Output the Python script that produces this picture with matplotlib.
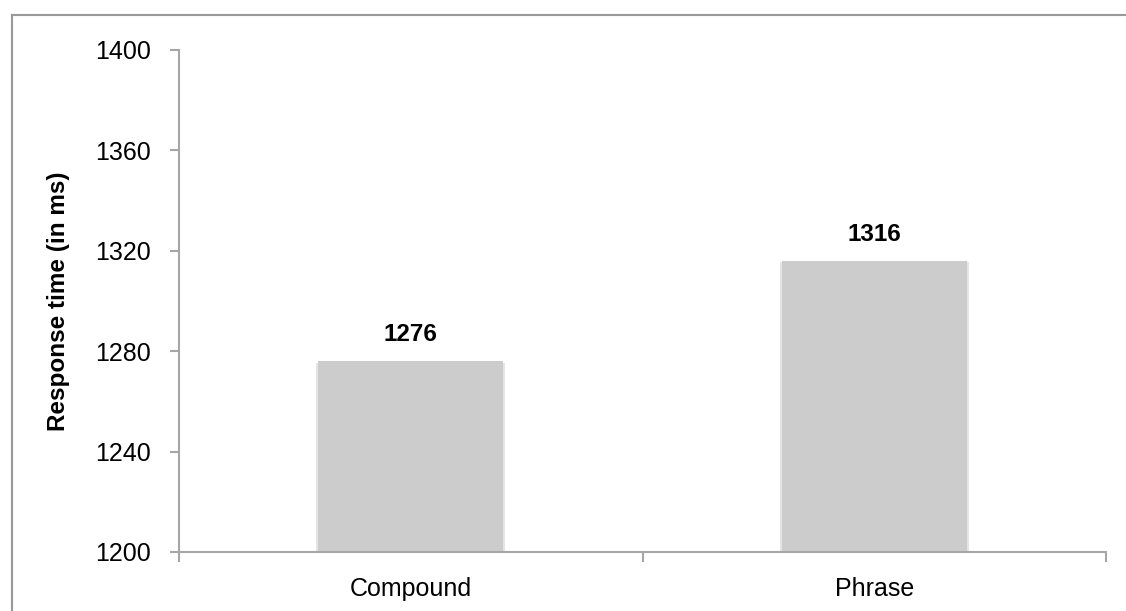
import matplotlib.pyplot as plt
from matplotlib.lines import Line2D

categories = ['Compound', 'Phrase']
values = [1276, 1316]
yticks = [1200, 1240, 1280, 1320, 1360, 1400]

plt.rcParams['font.family'] = ['Liberation Sans', 'DejaVu Sans']
axis_col = '#a6a6a6'

fig = plt.figure(figsize=(11.26, 6.11), dpi=100)
ax = fig.add_axes([179/1126, 59/611, 927/1126, 502/611])

x = list(range(len(categories)))
# soft shadow round the bars
ax.bar(x, [v - 1199.2 for v in values], width=0.408, bottom=1198.6,
       color='#e4e4e4', zorder=1)
ax.bar(x, [v - 1200 for v in values], width=0.4, bottom=1200, color='#cccccc', zorder=2)

for i, v in zip(x, values):
    ax.annotate(str(v), (i, v), xytext=(0, 14.5), textcoords='offset points',
                ha='center', va='baseline', fontsize=17.5, fontweight='bold')

ax.set_ylim(1200, 1400)
ax.set_xlim(-0.5, len(categories) - 0.5)
ax.set_yticks(yticks)
ax.set_xticks(x)
ax.set_xticklabels(categories)
ax.set_xticks([-0.5, 0.5, 1.5], minor=True)

for s in ['top', 'right']:
    ax.spines[s].set_visible(False)
for s in ['left', 'bottom']:
    ax.spines[s].set_color(axis_col)
    ax.spines[s].set_linewidth(1.5)

ax.tick_params(axis='y', direction='out', length=6.5, width=1.5, color=axis_col,
               labelsize=18, pad=14)
ax.tick_params(axis='x', which='major', length=0, labelsize=18, pad=18)
ax.tick_params(axis='x', which='minor', direction='out', length=7, width=1.5, color=axis_col)

ax.set_ylabel('Response time (in ms)', fontsize=17.5, fontweight='bold')
ax.yaxis.set_label_coords(-0.118, 0.5)

# outer frame (top and left only visible)
fig.add_artist(Line2D([12/1126, 12/1126], [0, 1 - 15/611], color='#999999', lw=1.5,
                      transform=fig.transFigure))
fig.add_artist(Line2D([12/1126, 1], [1 - 15/611, 1 - 15/611], color='#999999', lw=1.5,
                      transform=fig.transFigure))

fig.savefig('out.png', dpi=100)
